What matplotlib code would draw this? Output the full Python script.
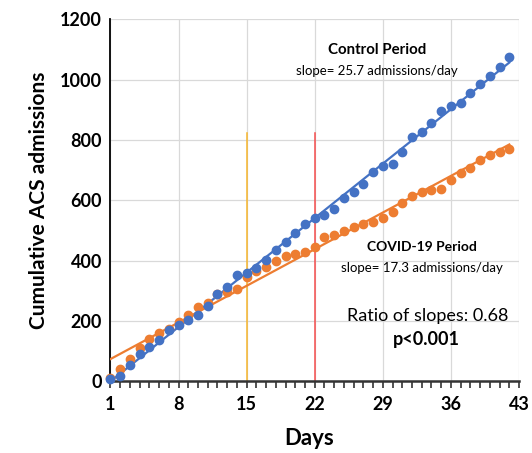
import matplotlib
matplotlib.use("Agg")
import matplotlib.pyplot as plt
import numpy as np
from matplotlib.ticker import MultipleLocator

plt.rcParams['font.family'] = ['Lato', 'DejaVu Sans']

# data
days = list(range(1, 43))
control = [6, 18, 53, 90, 115, 136, 171, 186, 202, 221, 250, 288, 314, 352, 360, 374, 403,
           434, 463, 491, 520, 540, 553, 570, 607, 628, 655, 693, 714, 720, 761, 809,
           828, 857, 897, 914, 922, 955, 987, 1012, 1043, 1076]
covid = [10, 42, 75, 110, 141, 160, 173, 195, 220, 245, 261, 290, 295, 307, 345, 367, 378,
         399, 415, 422, 430, 446, 477, 485, 498, 513, 522, 527, 542, 561, 590, 614,
         628, 633, 636, 667, 690, 706, 735, 751, 762, 770]
lockdown_days = [15, 22]
lockdown_colors = ['#f7b52c', '#f54d4d']
xticks = [1, 8, 15, 22, 29, 36, 43]
yticks = [0, 200, 400, 600, 800, 1000, 1200]

blue = '#4472c4'
orange = '#ed7d31'

fig = plt.figure(figsize=(5.32, 4.53), dpi=100)
ax = fig.add_axes([0.2077, 0.1585, 0.7679, 0.7985])

ax.grid(True, color='#d9d9d9', linewidth=0.9)
ax.set_axisbelow(True)

for d, c in zip(lockdown_days, lockdown_colors):
    ax.plot([d, d], [0, 825], color=c, linewidth=1.1, zorder=2)

# trend lines
x = np.array(days)
for vals, col in [(control, blue), (covid, orange)]:
    k, b = np.polyfit(x, vals, 1)
    ax.plot(x, k * x + b, color=col, linewidth=1.6, zorder=3)

ax.plot(days, covid, 'o', color=orange, markersize=6, zorder=4, clip_on=False)
ax.plot(days, control, 'o', color=blue, markersize=6, zorder=5, clip_on=False)

ax.set_xlim(1, 43)
ax.set_ylim(0, 1200)
ax.set_xticks(xticks)
ax.set_yticks(yticks)
ax.xaxis.set_minor_locator(MultipleLocator(1))
ax.tick_params(axis='x', which='both', direction='out', length=5, width=1.2, color='#333333',
               labelsize=13, pad=6)
ax.tick_params(axis='y', length=0, labelsize=13, pad=6)
for lab in ax.get_xticklabels() + ax.get_yticklabels():
    lab.set_fontweight('bold')

for s in ['top', 'right']:
    ax.spines[s].set_visible(False)
ax.spines['left'].set_linewidth(1.3)
ax.spines['bottom'].set_linewidth(1.8)
ax.spines['bottom'].set_color('#333333')

ax.set_xlabel('Days', fontsize=16, fontweight='bold', va='center')
ax.xaxis.set_label_coords(0.485, -0.158)
ax.set_ylabel('Cumulative ACS admissions', fontsize=15, fontweight='bold', labelpad=8)

ax.text(28.4, 1098, 'Control Period', fontsize=10.8, fontweight='bold', ha='center', va='center')
ax.text(28.4, 1029, 'slope= 25.7 admissions/day', fontsize=9.5, ha='center', va='center')
ax.text(33.0, 446, 'COVID-19 Period', fontsize=10, fontweight='bold', ha='center', va='center')
ax.text(33.0, 374, 'slope= 17.3 admissions/day', fontsize=9.5, ha='center', va='center')
ax.text(33.6, 216, 'Ratio of slopes: 0.68', fontsize=13, ha='center', va='center')
ax.text(33.5, 139, 'p<0.001', fontsize=13, fontweight='bold', ha='center', va='center')

fig.savefig('out.png', dpi=100)
